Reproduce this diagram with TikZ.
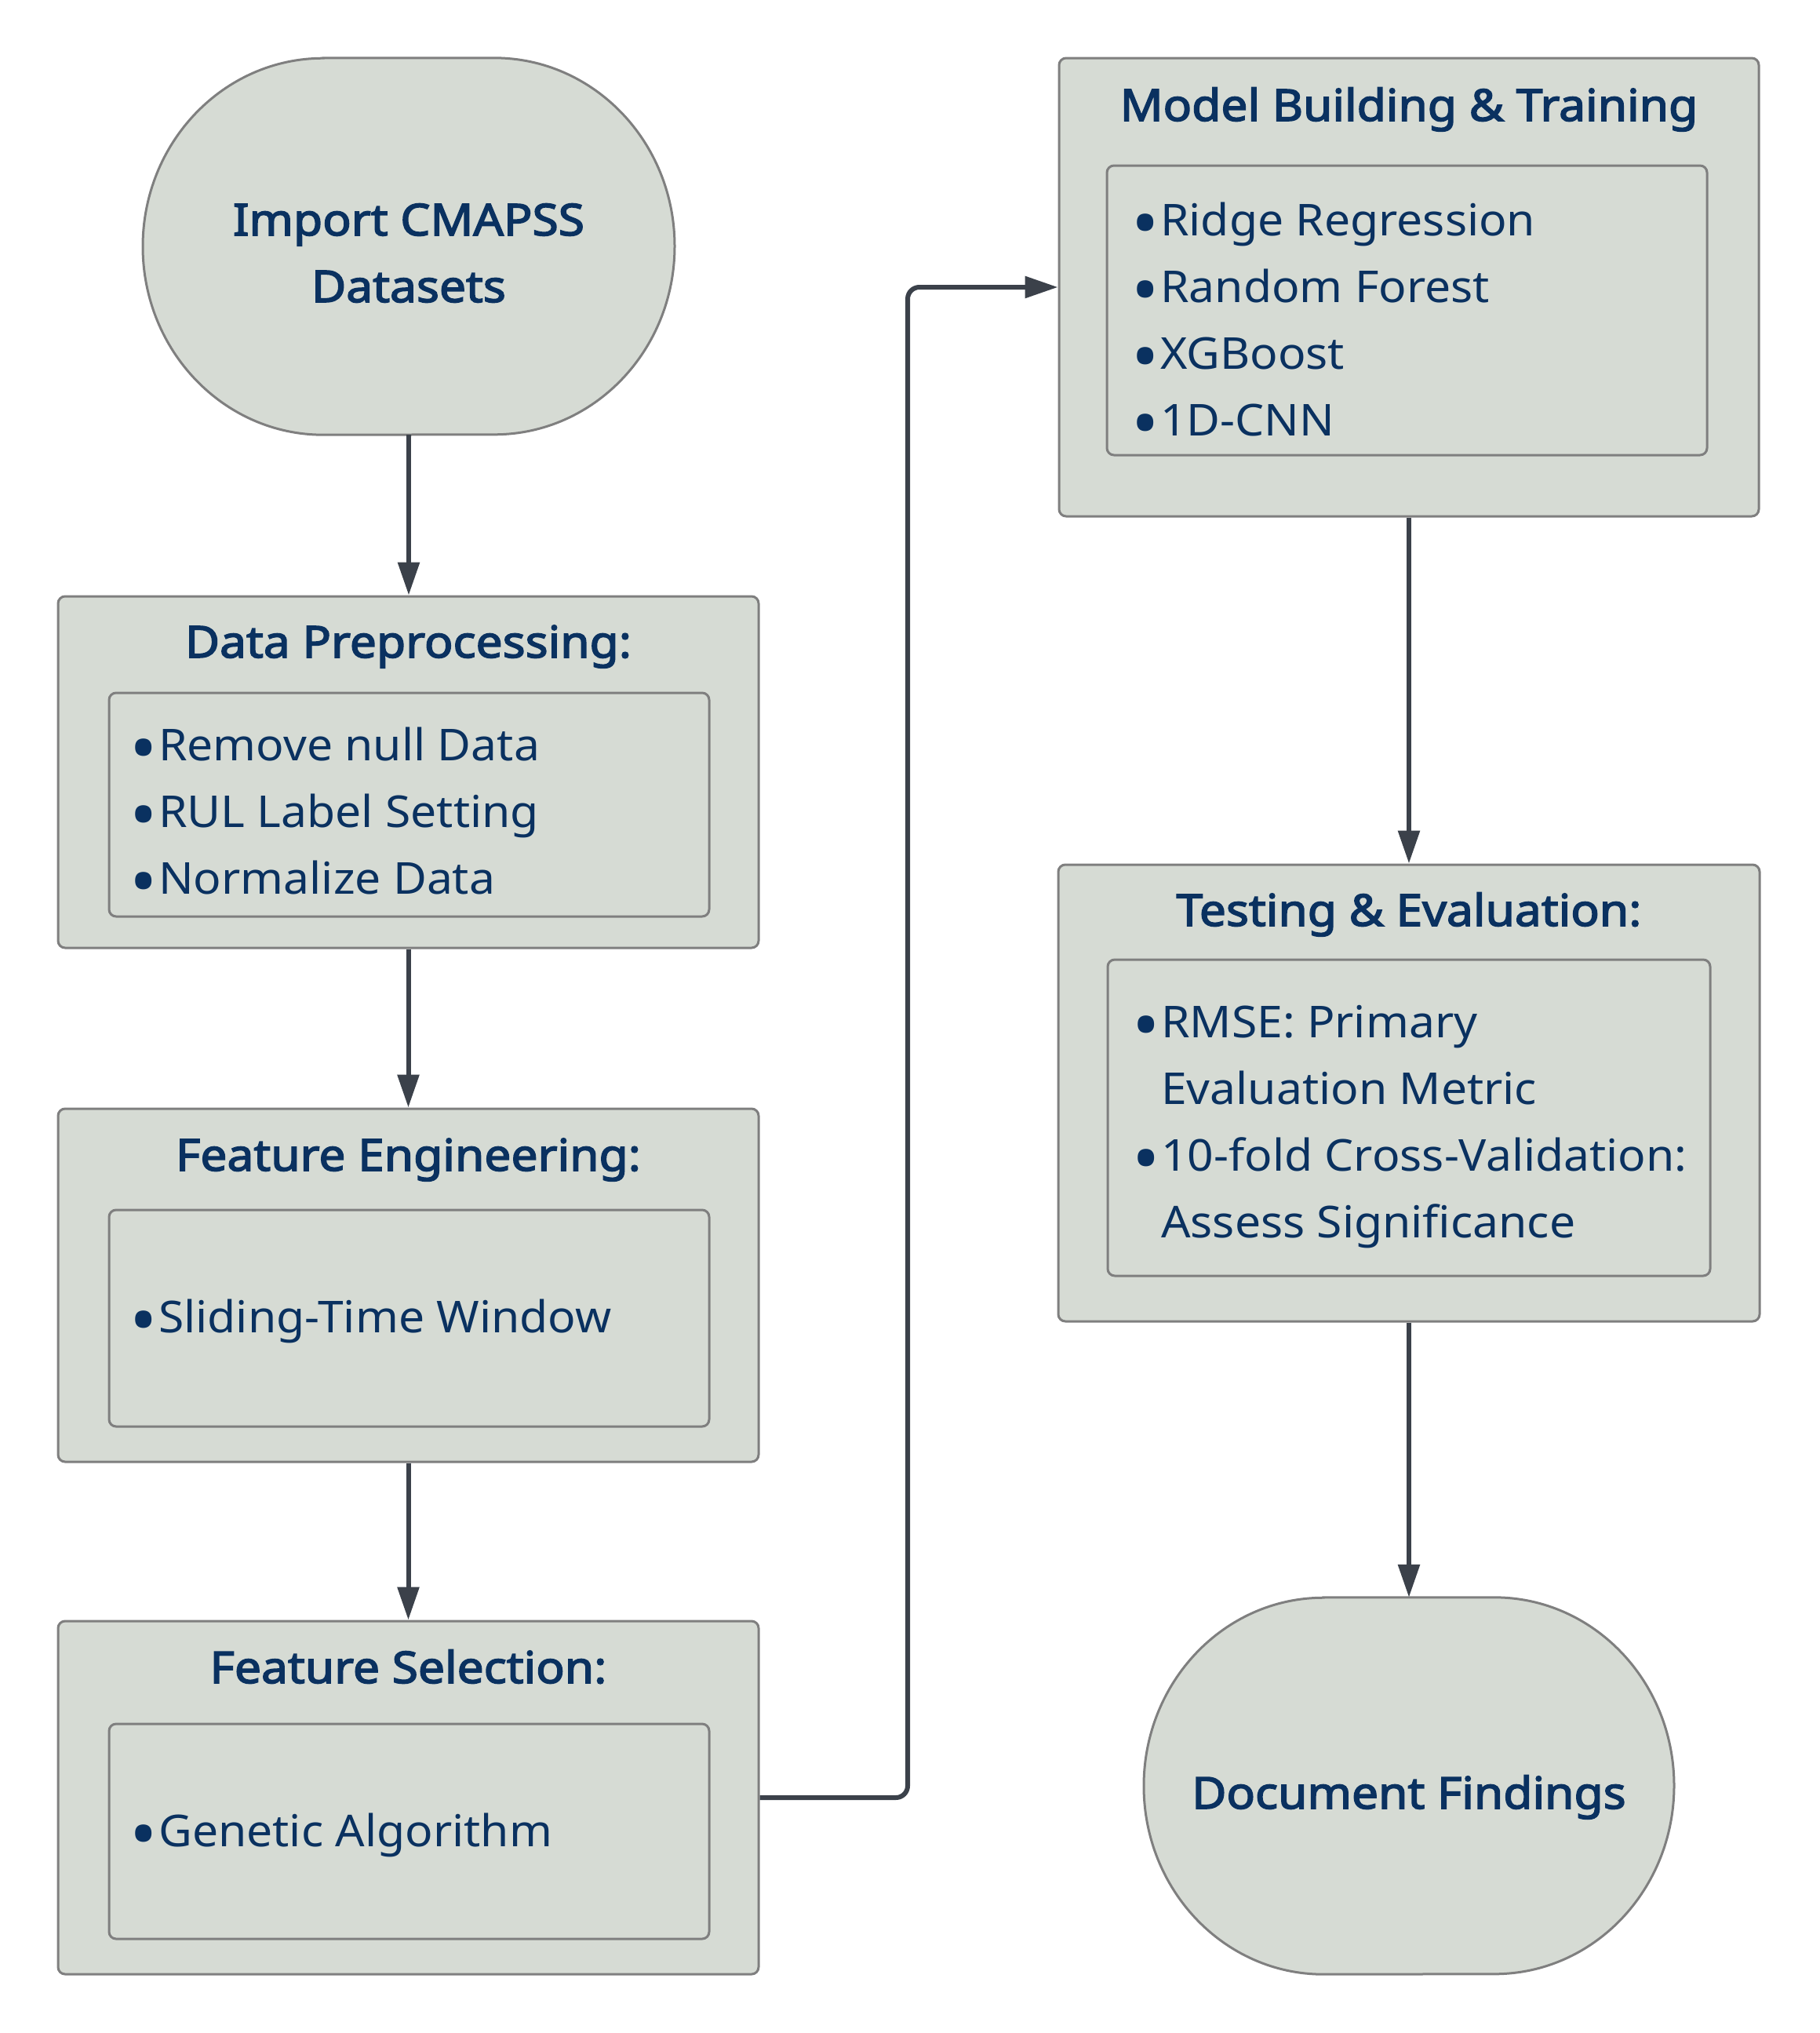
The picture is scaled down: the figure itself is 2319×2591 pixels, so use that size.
\documentclass[tikz,border=0pt]{standalone}
\usepackage{fontspec}
\setmainfont{Noto Sans}
\newfontfamily\bodyfam{Noto Sans}[FakeStretch=1.05]
\newfontfamily\titlefam{Noto Sans}[FakeBold=2.8,FakeStretch=1.08]
\usetikzlibrary{arrows.meta,backgrounds,calc}
\definecolor{boxfill}{HTML}{D6DBD4}
\definecolor{boxline}{HTML}{7F7F7F}
\definecolor{navy}{HTML}{0A3160}
\definecolor{arrowc}{HTML}{3B414A}
\newcommand{\bodyfnt}{\bodyfam\fontsize{56}{85}\selectfont}
\newcommand{\titlefnt}{\titlefam\fontsize{56}{85}\selectfont}
\newcommand{\bdot}{\makebox[30pt][l]{\hspace*{-7pt}\raisebox{-16pt}{\scalebox{1.6}{•}}}}
\newcommand{\bitem}[1]{\bdot#1}
\newcommand{\bcont}[1]{\hspace*{30pt}#1}
\tikzset{
  outerbox/.style={draw=boxline, fill=boxfill, line width=3pt, rounded corners=9pt, inner sep=0pt},
  innerbox/.style={draw=boxline, line width=3pt, rounded corners=9pt, inner sep=0pt},
  titletext/.style={anchor=base, text=navy, font=\titlefnt, inner sep=0pt},
  listtext/.style={anchor=base west, text=navy, font=\bodyfnt, inner sep=0pt},
  termbase/.style={minimum width=678pt, minimum height=480pt, inner sep=0pt},
  termshape/.style={draw=boxline, fill=boxfill, line width=3pt},
  arr/.style={draw=arrowc, line width=6pt, -{Triangle[length=42pt,width=27pt]}},
}
\begin{document}
\begin{tikzpicture}[x=1pt,y=-1pt]
\useasboundingbox (0,0) rectangle (2319,2591);

% ---- start terminal
\node[termbase] (start) at (521,314) {};
\begin{scope}[on background layer]
\draw[termshape] ([xshift=-109pt]start.north) -- ([xshift=109pt]start.north)
  arc[start angle=90,end angle=0,x radius=230pt,y radius=240pt]
  arc[start angle=0,end angle=-90,x radius=230pt,y radius=240pt]
  -- ([xshift=-109pt]start.south)
  arc[start angle=-90,end angle=-180,x radius=230pt,y radius=240pt]
  arc[start angle=180,end angle=90,x radius=230pt,y radius=240pt] -- cycle;
\end{scope}
\node[titletext] (startT) at (521,300) {\begin{tabular}[t]{@{}c@{}}Import CMAPSS\\Datasets\end{tabular}};

% ---- Data preprocessing
\node[outerbox, minimum width=893pt, minimum height=448pt] (dp) at (520.5,984) {};
\node[titletext] (dpT) at (520.5,838) {Data Preprocessing:};
\node[innerbox, minimum width=765pt, minimum height=285pt] (dpI) at (521.5,1025.5) {};
\node[listtext] (dpL) at (172,969) {\begin{tabular}[t]{@{}l@{}}\bitem{Remove null Data}\\\bitem{RUL Label Setting}\\\bitem{Normalize Data}\end{tabular}};

% ---- Feature engineering
\node[outerbox, minimum width=893pt, minimum height=450pt] (fe) at (520.5,1638) {};
\node[titletext] (feT) at (520.5,1492) {Feature Engineering:};
\node[innerbox, minimum width=765pt, minimum height=276pt] (feI) at (521.5,1680) {};
\node[listtext] (feL) at (172,1698) {\bitem{Sliding-Time Window}};

% ---- Feature selection
\node[outerbox, minimum width=893pt, minimum height=450pt] (fs) at (520.5,2291) {};
\node[titletext] (fsT) at (520.5,2145) {Feature Selection:};
\node[innerbox, minimum width=765pt, minimum height=274pt] (fsI) at (521.5,2334) {};
\node[listtext] (fsL) at (172,2353) {\bitem{Genetic Algorithm}};

% ---- Model building
\node[outerbox, minimum width=892pt, minimum height=584pt] (mb) at (1796,366) {};
\node[titletext] (mbT) at (1796,154) {Model Building \& Training};
\node[innerbox, minimum width=765pt, minimum height=369pt] (mbI) at (1793.5,395.5) {};
\node[listtext] (mbL) at (1449,300) {\begin{tabular}[t]{@{}l@{}}\bitem{Ridge Regression}\\\bitem{Random Forest}\\\bitem{XGBoost}\\\bitem{1D-CNN}\end{tabular}};

% ---- Testing
\node[outerbox, minimum width=894pt, minimum height=582pt] (te) at (1796,1393) {};
\node[titletext] (teT) at (1796,1180) {Testing \& Evaluation:};
\node[innerbox, minimum width=768pt, minimum height=403pt] (teI) at (1796,1424.5) {};
\node[listtext] (teL) at (1450,1322) {\begin{tabular}[t]{@{}l@{}}\bitem{RMSE: Primary}\\\bcont{Evaluation Metric}\\\bitem{10-fold Cross-Validation:}\\\bcont{Assess Significance}\end{tabular}};

% ---- Document findings terminal
\node[termbase, minimum width=676pt] (df) at (1796,2276) {};
\begin{scope}[on background layer]
\draw[termshape] ([xshift=-109pt]df.north) -- ([xshift=109pt]df.north)
  arc[start angle=90,end angle=0,x radius=229pt,y radius=240pt]
  arc[start angle=0,end angle=-90,x radius=229pt,y radius=240pt]
  -- ([xshift=-109pt]df.south)
  arc[start angle=-90,end angle=-180,x radius=229pt,y radius=240pt]
  arc[start angle=180,end angle=90,x radius=229pt,y radius=240pt] -- cycle;
\end{scope}
\node[titletext] (dfT) at (1796,2305) {Document Findings};

% ---- connectors
\coordinate (bend) at (1157,1200);
\draw[arr] (start.south) -- (start.south |- dp.north);
\draw[arr] (dp.south) -- (dp.south |- fe.north);
\draw[arr] (fe.south) -- (fe.south |- fs.north);
\draw[arr, rounded corners=15pt] (fs.east) -| (bend) |- (mb.west);
\draw[arr] (mb.south) -- (mb.south |- te.north);
\draw[arr] (te.south) -- (te.south |- df.north);
\end{tikzpicture}
\end{document}
